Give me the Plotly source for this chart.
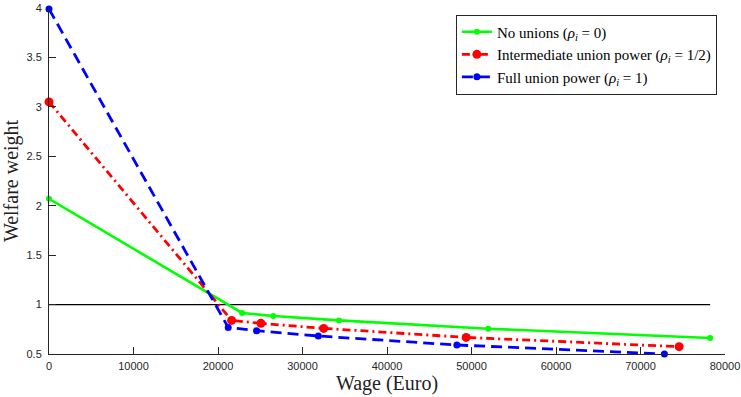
import plotly.graph_objects as go

# Wage (Euro) and welfare weight for each union-power scenario
wage_none = [0, 22850, 26540, 34330, 51980, 78240]
weight_none = [2.07, 0.915, 0.885, 0.84, 0.756, 0.662]

wage_mid = [0, 21610, 25080, 32510, 49370, 74570]
weight_mid = [3.05, 0.84, 0.81, 0.759, 0.668, 0.574]

wage_full = [0, 21210, 24570, 31870, 48270, 72830]
weight_full = [3.99, 0.769, 0.736, 0.682, 0.591, 0.50]

# reference level of welfare weight = 1
ref_wage = [0, 78240]
ref_weight = [1, 1]

x_ticks = [0, 10000, 20000, 30000, 40000, 50000, 60000, 70000, 80000]
y_ticks = [0.5, 1, 1.5, 2, 2.5, 3, 3.5, 4]
y_tick_text = ["0.5", "1", "1.5", "2", "2.5", "3", "3.5", "4"]

serif = "Times New Roman, Liberation Serif, DejaVu Serif, serif"
sans = "Arial, Liberation Sans, sans-serif"
axis_col = "#262626"

fig = go.Figure()

fig.add_trace(go.Scatter(
    x=ref_wage, y=ref_weight, mode="lines",
    line=dict(color="black", width=1.3), showlegend=False, hoverinfo="skip",
))

fig.add_trace(go.Scatter(
    x=wage_none, y=weight_none, mode="lines+markers",
    name="No unions (<i>ρ<sub>i</sub></i> = 0)",
    line=dict(color="#00FF00", width=2.6),
    marker=dict(color="#00FF00", size=6, symbol="circle"),
    cliponaxis=False,
))

fig.add_trace(go.Scatter(
    x=wage_mid, y=weight_mid, mode="lines+markers",
    name="Intermediate union power (<i>ρ<sub>i</sub></i> = 1/2)",
    line=dict(color="#FF0000", width=2.8, dash="8px,4px,2px,4px"),
    marker=dict(color="#FF0000", size=9, symbol="circle"),
    cliponaxis=False,
))

fig.add_trace(go.Scatter(
    x=wage_full, y=weight_full, mode="lines+markers",
    name="Full union power (<i>ρ<sub>i</sub></i> = 1)",
    line=dict(color="#0000FF", width=2.8, dash="11px,6px"),
    marker=dict(color="#0000FF", size=7, symbol="circle"),
    cliponaxis=False,
))

fig.update_layout(
    width=741, height=397,
    margin=dict(l=49, r=16, t=8, b=43),
    paper_bgcolor="white", plot_bgcolor="white",
    font=dict(family=sans, size=11, color=axis_col),
    legend=dict(
        x=0.988, y=0.981, xanchor="right", yanchor="top",
        bgcolor="white", bordercolor=axis_col, borderwidth=1,
        font=dict(family=serif, size=15, color="black"),
        tracegroupgap=0, itemwidth=30,
    ),
    xaxis=dict(
        range=[0, 80000], tickvals=x_ticks, tickformat="d",
        showline=True, linecolor=axis_col, linewidth=1,
        ticks="inside", ticklen=7, tickcolor=axis_col,
        showgrid=False, zeroline=False, ticklabelstandoff=2, automargin=False,
        title=dict(text="Wage (Euro)", font=dict(family=serif, size=20, color="#222"), standoff=4),
    ),
    yaxis=dict(
        range=[0.5, 4], tickvals=y_ticks, ticktext=y_tick_text,
        showline=True, linecolor=axis_col, linewidth=1,
        ticks="inside", ticklen=7, tickcolor=axis_col,
        showgrid=False, zeroline=False, ticklabelstandoff=4, automargin=False,
        title=dict(text="Welfare weight", font=dict(family=serif, size=20, color="#222"), standoff=6),
    ),
)

fig.write_html("out.html")
